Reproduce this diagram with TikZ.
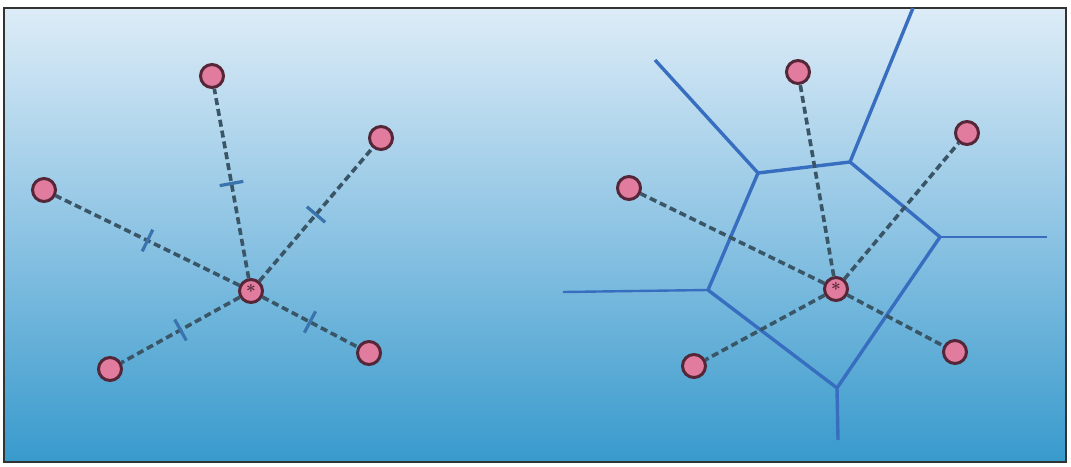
\documentclass[tikz,border=0pt]{standalone}
\usetikzlibrary{decorations.markings}
\definecolor{bgtop}{HTML}{DDECF7}
\definecolor{bgmid}{HTML}{8CC3E3}
\definecolor{bgbot}{HTML}{389ACC}
\definecolor{pinkfill}{HTML}{E27C9E}
\definecolor{pinkline}{HTML}{552638}
\definecolor{dashcol}{HTML}{3A5566}
\definecolor{edgecol}{HTML}{386EC0}
\definecolor{tickcol}{HTML}{3A74AE}
\tikzset{
  site/.style={circle, fill=pinkfill, draw=pinkline, line width=3pt, minimum size=23pt, inner sep=0pt},
  hub/.style={site, font=\LARGE\bfseries, text=pinkline},
  link/.style={draw=dashcol, line width=3.6pt, dash pattern=on 7pt off 4pt},
  ticked/.style={link, postaction={decorate, decoration={markings,
      mark=at position 0.5 with {\draw[solid, tickcol, line width=3.2pt] (0,-12pt) -- (0,12pt);}}}},
  cell/.style={draw=edgecol, line width=3.4pt, line join=round}
}
\begin{document}
\begin{tikzpicture}[x=1pt, y=-1pt]
\useasboundingbox (0,0) rectangle (1071,466);
\fill[white] (0,0) rectangle (1071,466);
\shade[top color=bgtop, bottom color=bgbot, middle color=bgmid] (4,8) rectangle (1066,462);
\draw[line width=2.4pt, black!80] (4,8) rectangle (1066,462);

% left diagram
\node[hub] (c1) at (251,291) {\raisebox{-0.9ex}{*}};
\node[site] (a1) at (212,76) {};
\node[site] (b1) at (381,138) {};
\node[site] (d1) at (44,190) {};
\node[site] (e1) at (110,369) {};
\node[site] (f1) at (369,353) {};
\path[ticked] (c1) -- (a1);
\path[ticked] (c1) -- (b1);
\path[ticked] (c1) -- (d1);
\path[ticked] (c1) -- (e1);
\path[ticked] (c1) -- (f1);

% right diagram: Voronoi cell
\coordinate (v1) at (758,173);
\coordinate (v2) at (850,162);
\coordinate (v3) at (940,237);
\coordinate (v4) at (837,388);
\coordinate (v5) at (708,290);
\coordinate (r1) at (655,60);
\coordinate (r2) at (913,8);
\coordinate (r3) at (1047,237);
\coordinate (r4) at (838,440);
\coordinate (r5) at (563,292);
\draw[cell] (v1) -- (v2) -- (v3) -- (v4) -- (v5) -- cycle;
\draw[cell] (v1) -- (r1);
\draw[cell] (v2) -- (r2);
\draw[cell, line width=2.4pt] (v3) -- (r3);
\draw[cell] (v4) -- (r4);
\draw[cell, line width=2.4pt] (v5) -- (r5);

\node[hub] (c2) at (836,289) {\raisebox{-0.9ex}{*}};
\node[site] (a2) at (798,72) {};
\node[site] (b2) at (967,133) {};
\node[site] (d2) at (629,188) {};
\node[site] (e2) at (694,366) {};
\node[site] (f2) at (955,352) {};
\path[link] (c2) -- (a2);
\path[link] (c2) -- (b2);
\path[link] (c2) -- (d2);
\path[link] (c2) -- (e2);
\path[link] (c2) -- (f2);
\end{tikzpicture}
\end{document}
